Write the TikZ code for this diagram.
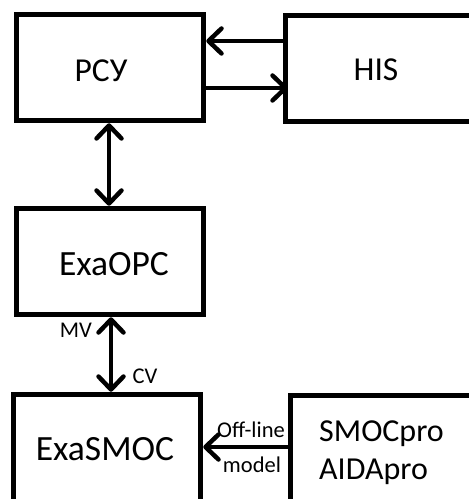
\documentclass[tikz,border=0pt]{standalone}
\usepackage{fontspec}
\setmainfont{Carlito}
\usetikzlibrary{arrows.meta}
\begin{document}
\begin{tikzpicture}[x=1bp,y=-1bp,
  box/.style={draw,line width=5.5bp,inner sep=0pt,minimum width=187bp,minimum height=106bp},
  arr/.style={line width=4.5bp,-{Straight Barb[length=13bp,width=25bp,round]}},
  arrboth/.style={line width=4.5bp,{Straight Barb[length=13bp,width=25bp,round]}-{Straight Barb[length=13bp,width=25bp,round]}},
  big/.style={inner sep=0pt,anchor=base,font=\fontsize{35.5bp}{38bp}\selectfont},
  mid/.style={inner sep=0pt,anchor=base,font=\fontsize{33.5bp}{36bp}\selectfont},
  mid2/.style={inner sep=0pt,anchor=base west,font=\fontsize{32bp}{36bp}\selectfont},
  small/.style={inner sep=0pt,anchor=base,font=\fontsize{22.5bp}{24bp}\selectfont}]
\useasboundingbox (0,0) rectangle (469,499);
\clip (0,0) rectangle (469,499);
% boxes
\node[box] (pcy) at (110,67.5) {};
\node[box,minimum width=199.5bp] (his) at (385.25,68.5) {};
\node[box] (opc) at (110,261.5) {};
\node[box,minimum height=125.5bp] (smoc) at (107,457.25) {};
\node[box,minimum width=199.5bp,minimum height=124.5bp] (pro) at (390.25,457.75) {};
% texts
\node[mid] (tpcy) at (101,82) {РСУ};
\node[mid] (this) at (376,81) {HIS};
\node[big] (topc) at (114,275) {ExaOPC};
\node[big] (tsmoc) at (105,460) {ExaSMOC};
\node[mid2] (tpro1) at (319,441) {SMOCpro};
\node[mid2] (tpro2) at (319,479) {AIDApro};
\node[small] (tmv) at (76,337) {MV};
\node[small] (tcv) at (145,383) {CV};
\node[small] (toff) at (251,437) {Off-line};
\node[small] (tmod) at (252,472) {model};
% helper coordinates
\coordinate (ya) at (0,41);
\coordinate (yb) at (0,88);
\coordinate (xa) at (109,0);
\coordinate (xb) at (111,0);
\coordinate (yc) at (0,447);
% connectors
\draw[arr] (his.west |- ya) -- (pcy.east |- ya);
\draw[arr] (pcy.east |- yb) -- ([xshift=5bp]his.west |- yb);
\draw[arrboth] (pcy.south -| xa) -- (opc.north -| xa);
\draw[arrboth] (opc.south -| xb) -- (smoc.north -| xb);
\draw[arr] (pro.west |- yc) -- (smoc.east |- yc);
\end{tikzpicture}
\end{document}
